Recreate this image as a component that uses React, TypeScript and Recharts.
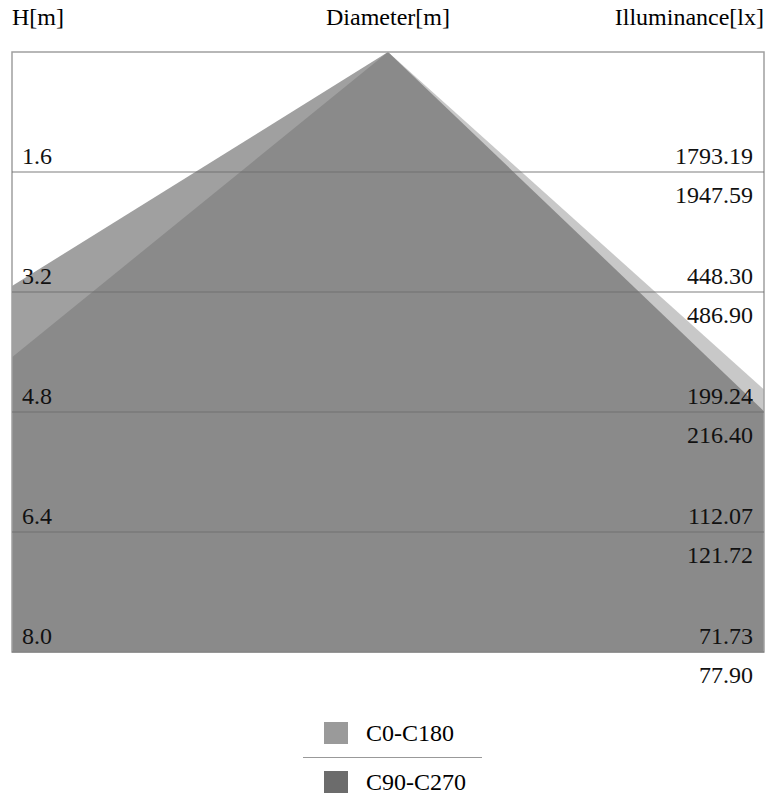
import React from 'react';
import { ComposedChart, Area, XAxis, YAxis, ReferenceLine, ReferenceArea } from 'recharts';

// cone edges: diameter position [m] where each edge leaves the frame, and the height [m] there
const coneX = [-5, 0, 5];
const c0H = [3.12, 0, 4.5];
const c90H = [4.07, 0, 4.79];

// height rows and illuminance at each row
const heights = [1.6, 3.2, 4.8, 6.4, 8.0];
const heightLabels = ['1.6', '3.2', '4.8', '6.4', '8.0'];
const luxC0 = ['1793.19', '448.30', '199.24', '112.07', '71.73'];
const luxC90 = ['1947.59', '486.90', '216.40', '121.72', '77.90'];

const seriesNames = ['C0-C180', 'C90-C270'];
const swatchColors = ['#9a9a9a', '#6c6c6c'];

const FONT = '"Liberation Serif", "Times New Roman", serif';

const c0Data = coneX.map((d, i) => ({ d, h: c0H[i] }));
const c90Data = coneX.map((d, i) => ({ d, h: c90H[i] }));

const RowLabel = (props: any) => {
  const { viewBox, left, top, bottom } = props;
  const { x, y, width } = viewBox;
  return (
    <g fontFamily={FONT} fontSize={24} fill="#111">
      <text x={x + 10} y={y - 8}>{left}</text>
      <text x={x + width - 11} y={y - 8} textAnchor="end">{top}</text>
      <text x={x + width - 11} y={y + 31} textAnchor="end">{bottom}</text>
    </g>
  );
};

export default function App() {
  return (
    <div style={{ position: 'absolute', left: 0, top: 0, width: 768, height: 796, background: '#fff', fontFamily: FONT }}>
      <div style={{ position: 'absolute', top: 4, left: 12, fontSize: 24 }}>H[m]</div>
      <div style={{ position: 'absolute', top: 4, left: 0, width: 776, textAlign: 'center', fontSize: 24 }}>Diameter[m]</div>
      <div style={{ position: 'absolute', top: 4, right: 4, fontSize: 24 }}>Illuminance[lx]</div>

      <ComposedChart width={768} height={700} margin={{ top: 52, right: 4, bottom: 48, left: 12 }}>
        <defs>
          <linearGradient id="c0fill" x1="0" y1="0" x2="1" y2="0">
            <stop offset="0" stopColor="#a0a0a0" />
            <stop offset="0.5" stopColor="#a0a0a0" />
            <stop offset="0.5" stopColor="#c8c8c8" />
            <stop offset="1" stopColor="#c8c8c8" />
          </linearGradient>
        </defs>
        <XAxis type="number" dataKey="d" domain={[-5, 5]} hide allowDataOverflow />
        <YAxis type="number" domain={[0, 8]} reversed hide allowDataOverflow />
        <Area
          data={c0Data}
          dataKey="h"
          type="linear"
          baseValue={8}
          stroke="none"
          fill="url(#c0fill)"
          fillOpacity={1}
          isAnimationActive={false}
        />
        <Area
          data={c90Data}
          dataKey="h"
          type="linear"
          baseValue={8}
          stroke="none"
          fill="#8a8a8a"
          fillOpacity={1}
          isAnimationActive={false}
        />
        {heights.map((h, i) => (
          <ReferenceLine
            key={h}
            y={h}
            stroke="#6e6e6e"
            strokeOpacity={0.6}
            strokeWidth={1.5}
            ifOverflow="visible"
            label={(p: any) => <RowLabel {...p} left={heightLabels[i]} top={luxC0[i]} bottom={luxC90[i]} />}
          />
        ))}
        <ReferenceArea x1={-5} x2={5} y1={0} y2={8} fill="none" stroke="#a0a0a0" strokeWidth={1.5} ifOverflow="visible" />
      </ComposedChart>

      <div style={{ position: 'absolute', left: 303, top: 718, width: 179, fontSize: 24 }}>
        {seriesNames.map((name, i) => (
          <div
            key={name}
            style={{
              display: 'flex',
              alignItems: 'center',
              height: 30,
              marginBottom: i === 0 ? 9 : 0,
              paddingBottom: i === 0 ? 9 : 0,
              borderBottom: i === 0 ? '1.5px solid #999' : 'none',
            }}
          >
            <span style={{ display: 'inline-block', width: 24, height: 22, marginLeft: 21, marginRight: 18, background: swatchColors[i] }} />
            <span>{name}</span>
          </div>
        ))}
      </div>
    </div>
  );
}
